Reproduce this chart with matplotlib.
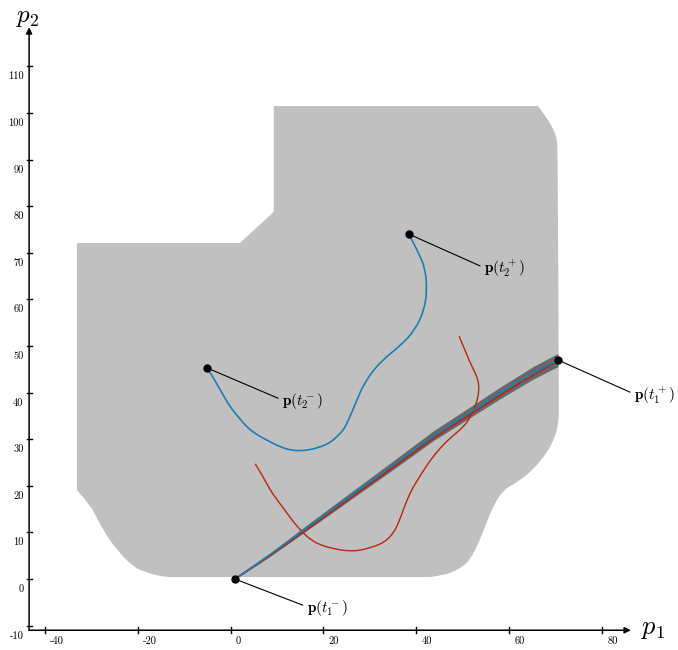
import matplotlib
matplotlib.use("Agg")
import matplotlib.pyplot as plt
from matplotlib.path import Path
from matplotlib.patches import PathPatch
import numpy as np

plt.rcParams['mathtext.fontset'] = 'cm'

# --- data (axis units) ---
x_ticks = [-40, -20, 0, 20, 40, 60, 80]
y_ticks = [-10, 0, 10, 20, 30, 40, 50, 60, 70, 80, 90, 100, 110]

# free region boundary (corners listed separately so they stay sharp)
region_x = [-33.4, -33.4, 1.7, 9.0, 9.0, 65.9, 67.2, 68.4, 69.3, 69.9, 70.2, 70.4, 70.2, 69.6, 67.8, 64.8,
            61.5, 58.4, 56.2, 54.8, 53.4, 51.3, 49.5, 47.6, 45.3, 42.6,
            -13.4, -15.5, -18.5, -21.3, -24.8, -27.8, -29.9, -31.2, -32.1]
region_y = [19.1, 72.1, 72.1, 78.8, 101.5, 101.5, 99.7, 98.0, 96.3, 94.7, 92.5, 35.6, 33.0, 30.5, 27.0, 23.4,
            20.8, 19.1, 15.5, 12.0, 8.4, 4.1, 2.6, 1.5, 0.8, 0.4,
            0.4, 0.6, 1.4, 2.6, 6.2, 10.5, 14.8, 16.4, 17.6]
region_corners = [0, 1, 2, 3, 4, 5, 11, 25, 26]

# trajectory 1 (nearly straight, with spread band)
traj1_x = [0.6, 8.2, 14.6, 21.1, 27.6, 36.2, 43.3, 51.3, 57.7, 64.8, 70.2]
traj1_y = [0.0, 5.2, 9.9, 14.6, 19.3, 25.5, 30.7, 35.8, 39.9, 44.2, 47.0]
traj1_red_y = [0.0, 5.0, 9.5, 14.2, 18.9, 25.0, 30.2, 35.3, 39.4, 43.8, 46.8]
band_half = [0.1, 0.35, 0.55, 0.7, 0.8, 0.95, 1.05, 1.15, 1.25, 1.35, 1.4]

# trajectory 2 (blue)
traj2_x = [-5.4, -4.1, -2.2, -0.4, 1.5, 3.2, 5.3, 7.5, 10.2, 13.1, 16.2, 19.0, 21.0, 22.6, 24.0,
           24.8, 25.9, 26.9, 28.6, 31.9, 36.2, 39.4, 41.4, 42.0, 41.6, 40.1, 38.1]
traj2_y = [45.3, 43.3, 40.0, 36.9, 34.6, 32.6, 31.0, 29.8, 28.4, 27.5, 27.6, 28.3, 29.2, 30.5, 32.0,
           33.5, 36.0, 38.4, 42.3, 46.6, 50.0, 53.4, 57.7, 62.0, 66.7, 70.2, 74.0]

# red crossing trajectory
traj3_x = [5.0, 6.6, 8.2, 10.0, 11.8, 13.5, 15.3, 17.0, 19.0, 21.8, 24.8, 27.4, 29.7, 31.8, 33.4,
           34.6, 35.5, 36.6, 37.7, 39.0, 40.5, 42.5, 44.8, 47.4, 49.8, 51.3, 52.3, 53.0, 53.2,
           53.0, 52.2, 51.3, 50.1, 48.9]
traj3_y = [24.7, 22.1, 19.1, 16.6, 14.2, 11.9, 9.9, 8.4, 7.3, 6.5, 6.0, 6.1, 6.7, 7.4, 8.4,
           9.7, 11.2, 14.0, 17.0, 19.7, 22.1, 25.2, 28.1, 30.6, 32.6, 34.6, 36.9, 39.0, 41.2,
           42.7, 44.6, 46.4, 49.3, 52.1]

# labelled points and label positions
pt_x = [0.6, 70.2, -5.4, 38.1]
pt_y = [0.0, 47.0, 45.3, 74.0]
lead_x = [15.2, 85.7, 9.9, 53.4]
lead_y = [-5.6, 40.1, 38.8, 67.2]
pt_labels = [r'$\mathbf{p}(t_1^-)$', r'$\mathbf{p}(t_1^+)$',
             r'$\mathbf{p}(t_2^-)$', r'$\mathbf{p}(t_2^+)$']


def smooth_path(xs, ys, corners=(), closed=False):
    # quadratic bezier through midpoints; corner points are passed through exactly
    pts = [np.array([x, y]) for x, y in zip(xs, ys)]
    sharp = set(corners)
    if not closed:
        sharp |= {0, len(pts) - 1}
    n = len(pts)
    # anchor points: corners themselves, otherwise midpoints between neighbours
    start = min(sharp)
    order = [(start + k) % n for k in range(n)] + ([start] if closed else [])
    if not closed:
        order = list(range(n))
    verts = [pts[order[0]]]
    codes = [Path.MOVETO]
    for a, b in zip(order[:-1], order[1:]):
        pa, pb = pts[a], pts[b]
        if b in sharp:
            if a in sharp:
                verts.append(pb)
                codes.append(Path.LINETO)
            else:
                verts += [pa, pb]
                codes += [Path.CURVE3, Path.CURVE3]
        else:
            mid = (pa + pb) / 2
            if a in sharp:
                verts.append(mid)
                codes.append(Path.LINETO)
            else:
                verts += [pa, mid]
                codes += [Path.CURVE3, Path.CURVE3]
    if closed:
        codes[-1] = codes[-1]
    return Path(verts, codes)


fig = plt.figure(figsize=(6.78, 6.5), dpi=100)
ax = fig.add_axes([0, 0, 1, 1])
ax.set_xlim(-49.97, 96.06)
ax.set_ylim(-15.24, 124.25)
ax.axis('off')

ax.add_patch(PathPatch(smooth_path(region_x, region_y, region_corners, closed=True),
                       facecolor='#c0c0c0', lw=0, zorder=1))

t1x = np.array(traj1_x)
t1y = np.array(traj1_y)
bw = np.array(band_half)
ax.fill_between(t1x, t1y - bw, t1y + bw, color='#686868', lw=0, zorder=2)
ax.add_patch(PathPatch(smooth_path(t1x, traj1_red_y), fill=False, color='#b8260c', lw=1.2, zorder=3))
ax.add_patch(PathPatch(smooth_path(t1x, t1y), fill=False, color='#1a7fb8', lw=1.2, zorder=4))

ax.add_patch(PathPatch(smooth_path(traj2_x, traj2_y), fill=False, color='#1a7fb8', lw=1.2, zorder=4))
ax.add_patch(PathPatch(smooth_path(traj3_x, traj3_y), fill=False, color='#b8260c', lw=1.0, zorder=3))

for px, py, lx, ly, lab in zip(pt_x, pt_y, lead_x, lead_y, pt_labels):
    ax.plot([px, lx], [py, ly], color='black', lw=0.8, zorder=5)
    ax.text(lx + 0.9, ly - 0.6, lab, fontsize=11, ha='left', va='center', zorder=6)
ax.plot(pt_x, pt_y, 'o', color='black', ms=5, zorder=7)

# axes with arrows
x0, y0 = -43.7, -11.0
ax.annotate('', xy=(85.9, y0), xytext=(x0, y0),
            arrowprops=dict(arrowstyle='-|>', lw=1.1, color='black', mutation_scale=9,
                            shrinkA=0, shrinkB=0))
ax.annotate('', xy=(x0, 118.4), xytext=(x0, y0),
            arrowprops=dict(arrowstyle='-|>', lw=1.1, color='black', mutation_scale=9,
                            shrinkA=0, shrinkB=0))
ax.text(90.7, -10.6, '$p_1$', fontsize=19, ha='center', va='center')
ax.text(-44.0, 120.6, '$p_2$', fontsize=18, ha='center', va='center')

for t in x_ticks:
    ax.plot([t - 0.3, t - 0.3], [y0 - 0.5, y0 + 0.8], color='black', lw=1.0)
    ax.text(t + 0.8, -13.4, str(t), fontsize=7.5, family='cmr10', ha='left', va='center')
for t in y_ticks:
    ax.plot([x0 - 0.5, x0 + 0.6], [t, t], color='black', lw=1.0)
    ax.text(-44.9, t - 2.2, str(t), fontsize=7.5, family='cmr10', ha='right', va='center')

fig.savefig('out.png', dpi=100)
